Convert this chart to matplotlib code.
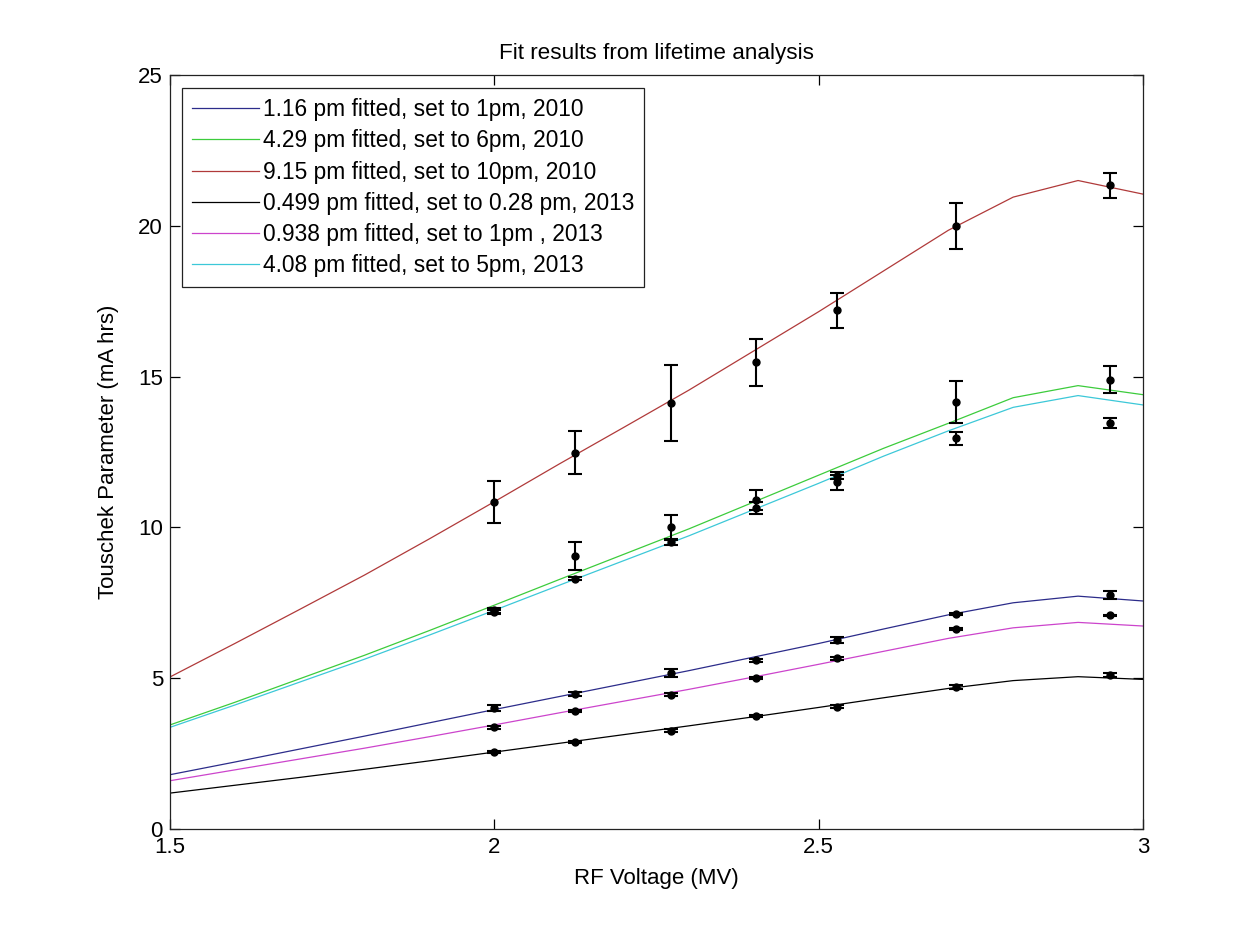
import matplotlib
matplotlib.use("Agg")
import matplotlib.pyplot as plt

plt.rcParams['font.family'] = ['Liberation Sans', 'DejaVu Sans']

# fitted curves, evaluated every 0.1 MV
v_fit = [1.5, 1.6, 1.7, 1.8, 1.9, 2.0, 2.1, 2.2, 2.3, 2.4, 2.5, 2.6, 2.7, 2.8, 2.9, 3.0]
fit_1pm_2010 = [1.8, 2.22, 2.65, 3.08, 3.52, 3.96, 4.39, 4.82, 5.25, 5.7, 6.15, 6.63, 7.1, 7.5, 7.72, 7.56]
fit_6pm_2010 = [3.45, 4.2, 4.98, 5.76, 6.58, 7.42, 8.27, 9.11, 9.95, 10.84, 11.73, 12.62, 13.45, 14.3, 14.7, 14.4]
fit_10pm_2010 = [5.04, 6.15, 7.28, 8.42, 9.62, 10.85, 12.1, 13.32, 14.55, 15.85, 17.15, 18.5, 19.85, 20.95, 21.5, 21.05]
fit_028pm_2013 = [1.19, 1.45, 1.71, 1.98, 2.26, 2.55, 2.84, 3.13, 3.42, 3.72, 4.03, 4.35, 4.66, 4.92, 5.05, 4.96]
fit_1pm_2013 = [1.6, 1.96, 2.32, 2.68, 3.06, 3.45, 3.85, 4.24, 4.63, 5.04, 5.46, 5.89, 6.32, 6.67, 6.85, 6.73]
fit_5pm_2013 = [3.37, 4.11, 4.87, 5.63, 6.43, 7.25, 8.08, 8.9, 9.72, 10.59, 11.46, 12.36, 13.2, 13.98, 14.37, 14.06]

labels = ['1.16 pm fitted, set to 1pm, 2010',
          '4.29 pm fitted, set to 6pm, 2010',
          '9.15 pm fitted, set to 10pm, 2010',
          '0.499 pm fitted, set to 0.28 pm, 2013',
          '0.938 pm fitted, set to 1pm , 2013',
          '4.08 pm fitted, set to 5pm, 2013']
colors = ['#2c2c8a', '#3ccc3c', '#b03a3a', '#000000', '#cc44cc', '#3cc8d8']

# measured Touschek parameters with errors
v_meas = [2.0, 2.125, 2.273, 2.404, 2.529, 2.712, 2.95]
meas_1pm_2010 = [4.02, 4.47, 5.17, 5.6, 6.28, 7.12, 7.76]
err_1pm_2010 = [0.1, 0.07, 0.12, 0.05, 0.1, 0.04, 0.12]
meas_6pm_2010 = [7.25, 9.05, 10.0, 10.9, 11.72, 14.15, 14.9]
err_6pm_2010 = [0.08, 0.45, 0.4, 0.33, 0.12, 0.7, 0.45]
meas_10pm_2010 = [10.83, 12.48, 14.13, 15.47, 17.2, 20.0, 21.34]
err_10pm_2010 = [0.7, 0.7, 1.27, 0.78, 0.58, 0.77, 0.42]
meas_028pm_2013 = [2.56, 2.89, 3.26, 3.74, 4.06, 4.72, 5.1]
err_028pm_2013 = [0.03, 0.03, 0.06, 0.04, 0.05, 0.07, 0.06]
meas_1pm_2013 = [3.37, 3.92, 4.45, 5.0, 5.66, 6.63, 7.08]
err_1pm_2013 = [0.06, 0.03, 0.05, 0.04, 0.05, 0.03, 0.03]
meas_5pm_2013 = [7.2, 8.3, 9.5, 10.65, 11.5, 12.95, 13.47]
err_5pm_2013 = [0.07, 0.05, 0.08, 0.2, 0.25, 0.22, 0.17]

fits = [fit_1pm_2010, fit_6pm_2010, fit_10pm_2010, fit_028pm_2013, fit_1pm_2013, fit_5pm_2013]
meas = [meas_1pm_2010, meas_6pm_2010, meas_10pm_2010, meas_028pm_2013, meas_1pm_2013, meas_5pm_2013]
errs = [err_1pm_2010, err_6pm_2010, err_10pm_2010, err_028pm_2013, err_1pm_2013, err_5pm_2013]

fig = plt.figure(figsize=(12.45, 9.3), dpi=100)
ax = fig.add_axes([0.1365, 0.1086, 0.7815, 0.8108])

for y, c, lab in zip(fits, colors, labels):
    ax.plot(v_fit, y, color=c, lw=0.9, label=lab)

for y, e in zip(meas, errs):
    ax.errorbar(v_meas, y, yerr=e, fmt='o', color='k', ms=5, lw=1.5,
                capsize=5, capthick=1.5)

ax.set_xlim(1.5, 3)
ax.set_ylim(0, 25)
ax.set_xticks([1.5, 2, 2.5, 3])
ax.set_xticklabels(['1.5', '2', '2.5', '3'])
ax.set_yticks([0, 5, 10, 15, 20, 25])
ax.tick_params(direction='in', length=7, width=0.9, top=True, right=True,
               labelsize=16)
ax.tick_params(axis='x', pad=6)
ax.tick_params(axis='y', pad=5)
for s in ax.spines.values():
    s.set_linewidth(0.9)
    s.set_color('#222222')

ax.set_xlabel('RF Voltage (MV)', fontsize=16, labelpad=7)
ax.set_ylabel('Touschek Parameter (mA hrs)', fontsize=16, labelpad=14)
ax.set_title('Fit results from lifetime analysis', fontsize=16.2, pad=11.5)

leg = ax.legend(loc='upper left', bbox_to_anchor=(0.0123, 0.9828), borderaxespad=0,
                fontsize=16.4, fancybox=False, framealpha=1, edgecolor='#222222',
                handlelength=2.95, handletextpad=0.15, labelspacing=0.36,
                borderpad=0.45)
leg.get_frame().set_linewidth(0.9)

fig.savefig('out.png', dpi=100, facecolor='white')
